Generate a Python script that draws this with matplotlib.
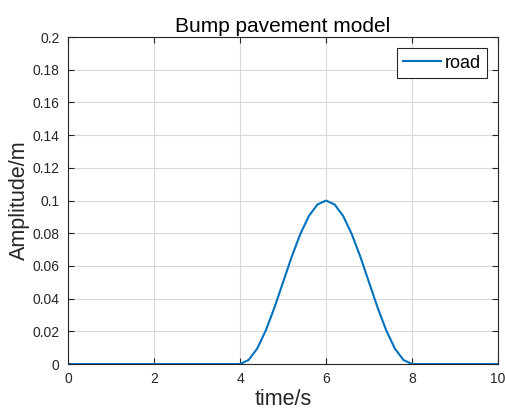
import matplotlib
matplotlib.use("Agg")
import matplotlib.pyplot as plt

plt.rcParams["font.family"] = ["Liberation Sans", "DejaVu Sans"]

# road profile
time_s = [0, 1, 2, 3, 4.0, 4.2, 4.4, 4.6, 4.8, 5.0, 5.2, 5.4, 5.6, 5.8, 6.0,
          6.2, 6.4, 6.6, 6.8, 7.0, 7.2, 7.4, 7.6, 7.8, 8.0, 9, 10]
amplitude = [0, 0, 0, 0, 0.0, 0.0025, 0.0095, 0.0206, 0.0345, 0.05, 0.0655,
             0.0794, 0.0905, 0.0976, 0.1, 0.0976, 0.0905, 0.0794, 0.0655,
             0.05, 0.0345, 0.0206, 0.0095, 0.0025, 0.0, 0, 0]
xticks = [0, 2, 4, 6, 8, 10]
yticks = [0, 0.02, 0.04, 0.06, 0.08, 0.1, 0.12, 0.14, 0.16, 0.18, 0.2]
ytick_labels = ["0", "0.02", "0.04", "0.06", "0.08", "0.1", "0.12", "0.14",
                "0.16", "0.18", "0.2"]

fig = plt.figure(figsize=(5.05, 4.17), dpi=100)
ax = fig.add_axes([0.1347, 0.127, 0.8515, 0.784])

ax.plot(time_s, amplitude, color="#0072BD", linewidth=1.5, label="road")

ax.set_xlim(0, 10)
ax.set_ylim(0, 0.2)
ax.set_xticks(xticks)
ax.set_yticks(yticks)
ax.set_yticklabels(ytick_labels)
ax.grid(True, color="#d9d9d9", linewidth=0.8)
ax.tick_params(direction="in", length=4, labelsize=10, colors="#262626",
               top=True, right=True, pad=6)
for s in ax.spines.values():
    s.set_color("#262626")
    s.set_linewidth(0.8)

ax.set_title("Bump pavement model", fontsize=15, color="#000000", pad=4)
ax.set_xlabel("time/s", fontsize=15.5, color="#262626", labelpad=2)
ax.set_ylabel("Amplitude/m", fontsize=15.5, color="#262626", labelpad=2)

leg = ax.legend(loc="upper right", fontsize=13, fancybox=False, framealpha=1,
                edgecolor="#262626", handlelength=2.1, handletextpad=0.2,
                borderpad=0.35, borderaxespad=0, bbox_to_anchor=(0.974, 0.966))
leg.get_frame().set_linewidth(0.8)

fig.savefig("out.png", dpi=100)
